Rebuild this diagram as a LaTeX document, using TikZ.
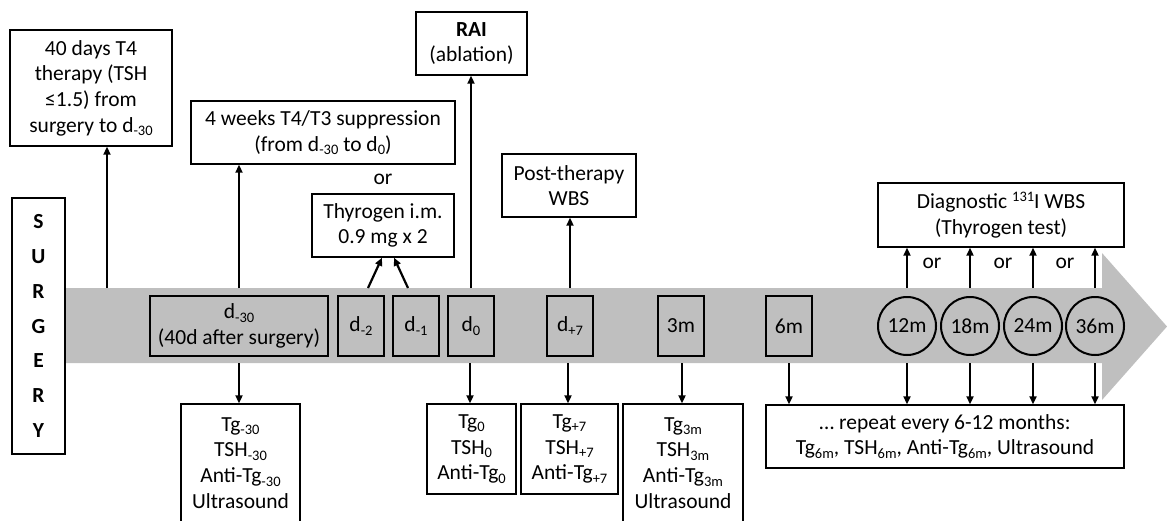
\documentclass[tikz,border=0pt]{standalone}
\usepackage{fontspec}
\setmainfont{Carlito}
\usetikzlibrary{arrows.meta}
\definecolor{bargray}{HTML}{BFBFBF}
\newcommand\sbx[1]{\raisebox{-3.5pt}{\fontsize{14.5}{14.5}\selectfont #1}}
\newcommand\spx[1]{\raisebox{7pt}{\fontsize{14.5}{14.5}\selectfont #1}}
\begin{document}
\begin{tikzpicture}[x=1pt,y=-1pt,
  every node/.style={font=\fontsize{21.5}{25.7}\selectfont, inner sep=0pt, align=center},
  box/.style={draw, line width=1.4pt, fill=white},
  tbox/.style={draw, line width=2.8pt, fill=bargray, minimum height=60pt},
  circ/.style={draw, circle, line width=2pt, minimum size=58pt},
  arr/.style={line width=2.2pt, -{Triangle[length=8pt,width=7pt]}},
]
\useasboundingbox (0,0) rectangle (1167,520);
% timeline bar
\fill[bargray] (66,288) -- (1102,288) -- (1102,253) -- (1167,326.5) -- (1102,400) -- (1102,363) -- (66,363) -- cycle;

% surgery
\node[box, minimum width=53pt, minimum height=256pt, font=\bfseries\fontsize{21.5}{34.7}\selectfont] (surg) at (38.5,326) {S\\U\\R\\G\\E\\R\\Y};

% top boxes
\node[box, minimum width=162pt, minimum height=116pt] (t4) at (91,88) {40 days T4\\therapy (TSH\\≤1.5) from\\surgery to d\sbx{-30}};
\node[box, minimum width=264pt, minimum height=63pt] (supp) at (323,132.5) {4 weeks T4/T3 suppression\\(from d\sbx{-30} to d\sbx{0})};
\node (or1) at (383,179) {or};
\node[box, minimum width=142pt, minimum height=63pt] (thyro) at (383,225.5) {Thyrogen i.m.\\0.9 mg x 2};
\node[box, minimum width=111pt, minimum height=63pt] (rai) at (471.5,43.5) {\textbf{RAI}\\(ablation)};
\node[box, minimum width=134pt, minimum height=63pt] (post) at (569,185.5) {Post-therapy\\WBS};
\node[box, minimum width=246pt, minimum height=64pt] (diag) at (1001,215) {Diagnostic \spx{131}I WBS\\(Thyrogen test)};

% timeline boxes
\node[tbox, minimum width=178pt] (d30) at (239,326) {d\sbx{-30}\\(40d after surgery)};
\node[tbox, minimum width=46pt] (dm2) at (361,326) {d\sbx{-2}};
\node[tbox, minimum width=46pt] (dm1) at (416,326) {d\sbx{-1}};
\node[tbox, minimum width=46pt] (d0) at (471,326) {d\sbx{0}};
\node[tbox, minimum width=46pt] (dp7) at (570,326) {d\sbx{+7}};
\node[tbox, minimum width=46pt] (m3) at (681,326) {3m};
\node[tbox, minimum width=46pt] (m6) at (789,326) {6m};
\node[circ] (m12) at (907,326) {12m};
\node[circ] (m18) at (970,326) {18m};
\node[circ] (m24) at (1033,326) {24m};
\node[circ] (m36) at (1095,326) {36m};

% bottom boxes
\node[box, minimum width=119pt, minimum height=118pt] (tg30) at (240.5,463) {Tg\sbx{-30}\\TSH\sbx{-30}\\Anti-Tg\sbx{-30}\\Ultrasound};
\node[box, minimum width=89pt, minimum height=90pt] (tg0) at (471.5,449) {Tg\sbx{0}\\TSH\sbx{0}\\Anti-Tg\sbx{0}};
\node[box, minimum width=97pt, minimum height=90pt] (tgp7) at (569.5,449) {Tg\sbx{+7}\\TSH\sbx{+7}\\Anti-Tg\sbx{+7}};
\node[box, minimum width=120pt, minimum height=118pt] (tg3m) at (683,463) {Tg\sbx{3m}\\TSH\sbx{3m}\\Anti-Tg\sbx{3m}\\Ultrasound};
\node[box, minimum width=358pt, minimum height=63pt] (rep) at (945,436.5) {… repeat every 6-12 months:\\Tg\sbx{6m}, TSH\sbx{6m}, Anti-Tg\sbx{6m}, Ultrasound};

% "or" labels
\node (or2) at (932,263) {or};
\node (or3) at (1003,263) {or};
\node (or4) at (1065,263) {or};

% bar edge coordinates
\coordinate (u1) at (107,288);
\coordinate (u2) at (239,288);
\coordinate (u3) at (368,288);
\coordinate (u4) at (408,288);
\coordinate (u5) at (471,288);
\coordinate (u6) at (570,288);
\coordinate (u7) at (907,288);
\coordinate (u8) at (970,288);
\coordinate (u9) at (1033,288);
\coordinate (u10) at (1095,288);
\coordinate (w1) at (239,363);
\coordinate (w2) at (470,363);
\coordinate (w3) at (568,363);
\coordinate (w4) at (682,363);
\coordinate (w5) at (789,363);
\coordinate (w6) at (907,363);
\coordinate (w7) at (970,363);
\coordinate (w8) at (1033,363);
\coordinate (w9) at (1095,363);

% up arrows
\draw[arr] (u1) -- (u1 |- t4.south);
\draw[arr] (u2) -- (u2 |- supp.south);
\draw[arr] (u3) -- ([xshift=-1pt]thyro.south);
\draw[arr] (u4) -- ([xshift=11pt]thyro.south);
\draw[arr] (u5) -- (u5 |- rai.south);
\draw[arr] (u6) -- (u6 |- post.south);
\foreach \c in {u7,u8,u9,u10} \draw[arr] (\c) -- (\c |- diag.south);

% down arrows
\draw[arr] (w1) -- (w1 |- tg30.north);
\draw[arr] (w2) -- (w2 |- tg0.north);
\draw[arr] (w3) -- (w3 |- tgp7.north);
\draw[arr] (w4) -- (w4 |- tg3m.north);
\foreach \c in {w5,w6,w7,w8,w9} \draw[arr] (\c) -- (\c |- rep.north);
\end{tikzpicture}
\end{document}
